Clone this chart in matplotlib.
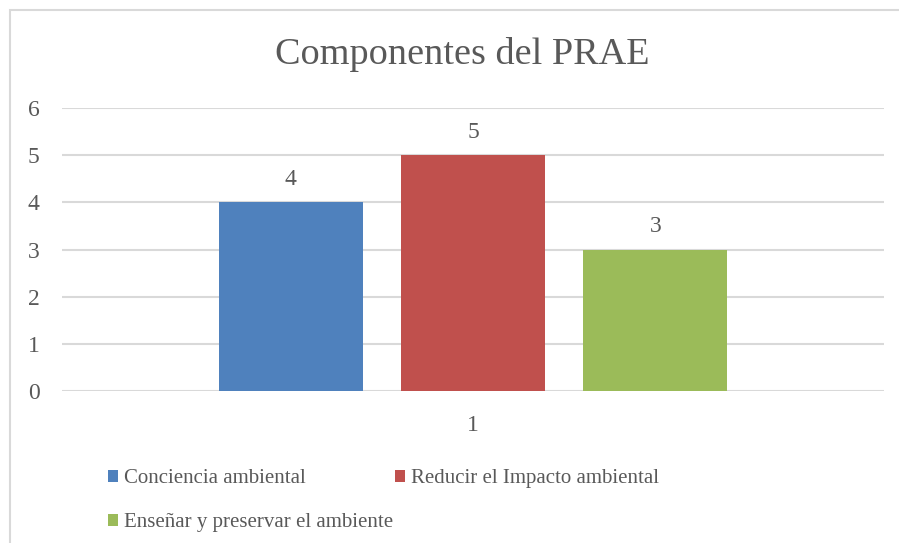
import matplotlib.pyplot as plt
from matplotlib.patches import Rectangle

# data
series = ['Conciencia ambiental', 'Reducir el Impacto ambiental', 'Enseñar y preservar el ambiente']
values = [4, 5, 3]
colors = ['#4f81bd', '#c0504d', '#9bbb59']
category = '1'

W, H = 899, 543
plt.rcParams['font.family'] = ['Liberation Serif', 'DejaVu Serif']
txt = '#595959'
grid = '#d9d9d9'

fig = plt.figure(figsize=(W / 100, H / 100), dpi=100)

# chart border (light gray frame, runs off the right/bottom edge)
fig.patches.append(Rectangle((10 / W, -0.1), 1.1, 1 - 10 / H + 0.1, transform=fig.transFigure,
                             fill=False, edgecolor=grid, linewidth=1.5))

ax = fig.add_axes([62 / W, (H - 391) / H, 822 / W, 283 / H])
step = 1.267
pos = [(i - 1) * step for i in range(len(values))]
bars = ax.bar(pos, values, width=1.0, color=colors, zorder=3)
for p, v in zip(pos, values):
    ax.annotate(str(v), (p, v), xytext=(0, 23), textcoords='offset pixels',
                ha='center', va='center', fontsize=17, color=txt)

ax.set_xlim(-2.854, 2.854)
ax.set_ylim(0, 6)
ax.set_yticks(range(7))
ax.yaxis.grid(True, color=grid, linewidth=1.5, zorder=0)
ax.set_xticks([0])
ax.set_xticklabels([category])
ax.tick_params(axis='both', length=0, labelsize=17, labelcolor=txt)
ax.tick_params(axis='y', pad=16)
ax.tick_params(axis='x', pad=17)
for s in ax.spines.values():
    s.set_visible(False)

fig.text(462 / W, 1 - 55 / H, 'Componentes del PRAE', ha='center', va='center',
         fontsize=27.5, color=txt)

handles = [bars[0], bars[2], bars[1]]
labels = [series[0], series[2], series[1]]
fig.legend(handles, labels, ncol=2, loc='upper left', bbox_to_anchor=(98 / W, 1 - 459 / H),
           frameon=False, fontsize=15, labelcolor=txt, handlelength=0.45, handleheight=0.45,
           handletextpad=0.3, columnspacing=0.1, labelspacing=1.2, borderpad=0)

fig.savefig('out.png', dpi=100)
